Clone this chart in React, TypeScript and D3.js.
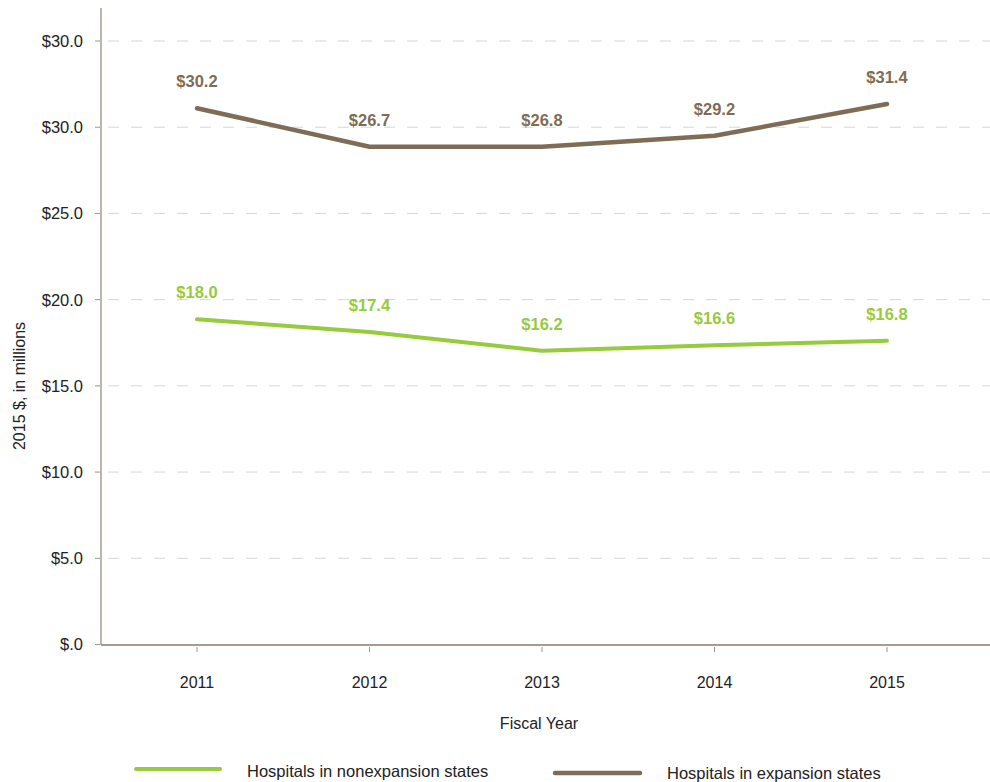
import React from "react";
import * as d3 from "d3";

const years = ["2011", "2012", "2013", "2014", "2015"];
const nonexpansionValues = [18.86, 18.13, 17.04, 17.35, 17.62];
const expansionValues = [31.1, 28.87, 28.87, 29.5, 31.35];
const nonexpansionLabels = ["$18.0", "$17.4", "$16.2", "$16.6", "$16.8"];
const expansionLabels = ["$30.2", "$26.7", "$26.8", "$29.2", "$31.4"];
const yTickValues = [0, 5, 10, 15, 20, 25, 30, 35];
const yTickLabels = ["$.0", "$5.0", "$10.0", "$15.0", "$20.0", "$25.0", "$30.0", "$30.0"];
const seriesNames = ["Hospitals in nonexpansion states", "Hospitals in expansion states"];

const GREEN = "#97CA3D";
const BROWN = "#7F6C55";
const FONT = "'Liberation Sans', Arial, Helvetica, sans-serif";

export default function App() {
  const W = 990;
  const H = 782;
  const x = d3.scalePoint<string>().domain(years).range([197, 887]);
  const y = d3.scaleLinear().domain([0, 35]).range([644.5, 41]);
  const line = d3
    .line<number>()
    .x((_, i) => x(years[i]) as number)
    .y((d) => y(d));

  const series = [
    { values: nonexpansionValues, labels: nonexpansionLabels, color: GREEN, width: 4 },
    { values: expansionValues, labels: expansionLabels, color: BROWN, width: 4.5 },
  ];

  return (
    <svg
      width={W}
      height={H}
      style={{ position: "absolute", left: 0, top: 0, background: "#fff" }}
      fontFamily={FONT}
    >
      {yTickValues.slice(1).map((v) => (
        <line
          key={"g" + v}
          x1={108}
          x2={990}
          y1={y(v)}
          y2={y(v)}
          stroke="#d6d6d6"
          strokeWidth={1}
          strokeDasharray="11 12"
        />
      ))}
      {yTickValues.map((v, i) => (
        <g key={"t" + v}>
          <line x1={95} x2={100} y1={y(v)} y2={y(v)} stroke="#a09486" strokeWidth={1} />
          <text x={83} y={y(v)} dy="0.36em" textAnchor="end" fontSize={16.5} fill="#222">
            {yTickLabels[i]}
          </text>
        </g>
      ))}
      <line x1={101} x2={101} y1={8} y2={645} stroke="#9a8e80" strokeWidth={1.3} />
      <line x1={101} x2={990} y1={645} y2={645} stroke="#8a7b6a" strokeWidth={1.3} />
      {years.map((yr) => (
        <g key={"x" + yr}>
          <line
            x1={x(yr) as number}
            x2={x(yr) as number}
            y1={647}
            y2={652}
            stroke="#a09486"
            strokeWidth={1}
          />
          <text x={x(yr) as number} y={682} dy="0.36em" textAnchor="middle" fontSize={16} fill="#222">
            {yr}
          </text>
        </g>
      ))}
      <text x={539} y={723} dy="0.36em" textAnchor="middle" fontSize={16} fill="#222">
        Fiscal Year
      </text>
      <text
        transform="translate(19,386) rotate(-90)"
        dy="0.36em"
        textAnchor="middle"
        fontSize={16}
        fill="#222"
      >
        2015 $, in millions
      </text>
      {series.map((s, si) => (
        <g key={"s" + si}>
          <path
            d={line(s.values) || ""}
            fill="none"
            stroke={s.color}
            strokeWidth={s.width}
            strokeLinecap="round"
            strokeLinejoin="round"
          />
          {s.values.map((v, i) => (
            <text
              key={"l" + i}
              x={x(years[i]) as number}
              y={y(v) - 27}
              dy="0.36em"
              textAnchor="middle"
              fontSize={16.5}
              fontWeight="bold"
              fill={s.color}
            >
              {s.labels[i]}
            </text>
          ))}
        </g>
      ))}
      <line x1={136} x2={220} y1={769} y2={769} stroke={GREEN} strokeWidth={4} strokeLinecap="round" />
      <text x={247} y={771} dy="0.36em" fontSize={16.5} fill="#222">
        {seriesNames[0]}
      </text>
      <line x1={555} x2={640} y1={773} y2={773} stroke={BROWN} strokeWidth={4.5} strokeLinecap="round" />
      <text x={667} y={773} dy="0.36em" fontSize={16.5} fill="#222">
        {seriesNames[1]}
      </text>
    </svg>
  );
}
